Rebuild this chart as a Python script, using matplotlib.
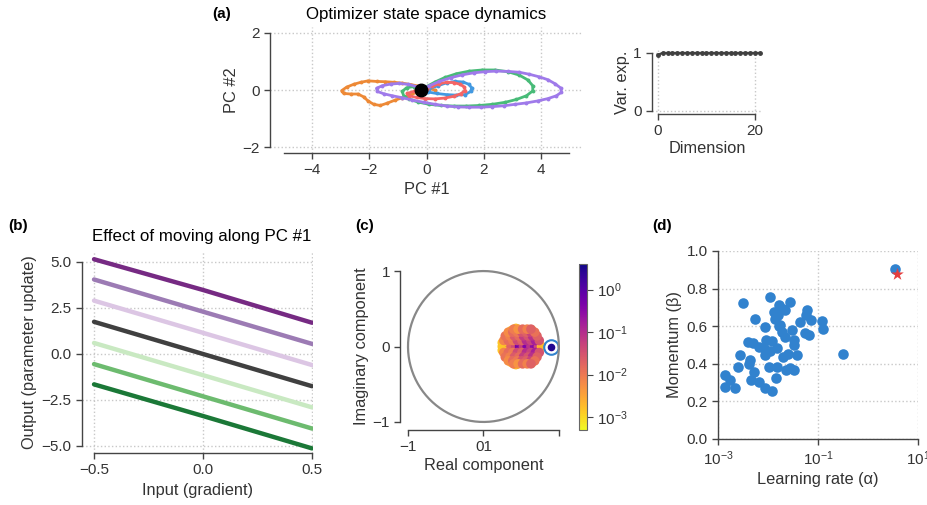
import numpy as np
import matplotlib
matplotlib.use("Agg")
from matplotlib import pyplot as plt
from matplotlib.colors import LogNorm

plt.rcParams['font.family'] = ['Liberation Sans', 'DejaVu Sans']
plt.rcParams['axes.unicode_minus'] = True

TXT = '#333333'
SPN = '#444444'
GRID = '#c8c8c8'
TICK_FS = 11
LAB_FS = 11.8

# ---- (a) trajectories in PC space ----
blue_x = [-0.2, 0.05, 0.35, 0.7, 1.05, 1.35, 1.55, 1.58, 1.48, 1.28, 1.0, 0.7, 0.4, 0.1, -0.1]
blue_y = [0.0, -0.07, -0.12, -0.16, -0.18, -0.16, -0.05, 0.08, 0.2, 0.28, 0.3, 0.25, 0.15, 0.05, 0.02]
orange_x = [0.3, 0.05, -0.25, -0.55, -0.85, -1.15, -1.45, -1.75, -2.05, -2.3, -2.55, -2.8, -2.97,
            -2.9, -2.65, -2.4, -2.2, -2.05, -1.85, -1.62, -1.38, -1.12, -0.85, -0.58, -0.35, -0.2]
orange_y = [0.0, 0.06, 0.13, 0.19, 0.24, 0.27, 0.29, 0.3, 0.32, 0.27, 0.2, 0.1, -0.02,
            -0.12, -0.14, -0.14, -0.24, -0.38, -0.5, -0.54, -0.46, -0.36, -0.27, -0.18, -0.08, 0.0]
green_x = [-0.2, -0.45, -0.7, -0.85, -0.8, -0.6, -0.3, 0.1, 0.5, 0.95, 1.4, 1.85, 2.3, 2.75, 3.15,
           3.5, 3.72, 3.72, 3.55, 3.25, 2.85, 2.4, 1.95, 1.5, 1.05, 0.65, 0.3, 0.0, -0.2]
green_y = [0.05, 0.12, 0.08, -0.05, -0.2, -0.32, -0.42, -0.5, -0.54, -0.56, -0.56, -0.54, -0.5, -0.43,
           -0.33, -0.2, -0.03, 0.15, 0.35, 0.52, 0.64, 0.7, 0.7, 0.66, 0.57, 0.44, 0.28, 0.12, 0.03]
red_x = [-0.2, -0.45, -0.68, -0.6, -0.35, -0.05, 0.3, 0.65, 0.95, 1.2, 1.35, 1.33, 1.18, 0.95, 0.7, 0.45, 0.2, 0.0]
red_y = [0.0, -0.05, -0.12, -0.2, -0.26, -0.3, -0.31, -0.28, -0.22, -0.13, -0.02, 0.1, 0.2, 0.26, 0.27, 0.22, 0.13, 0.05]
purple_x = [-0.2, 0.1, 0.45, 0.85, 1.25, 1.65, 2.05, 2.45, 2.85, 3.25, 3.6, 3.95, 4.25, 4.5, 4.7, 4.72,
            4.55, 4.25, 3.9, 3.5, 3.1, 2.7, 2.3, 1.9, 1.5, 1.1, 0.7, 0.3, -0.1, -0.5, -0.85, -1.2,
            -1.5, -1.72, -1.75, -1.55, -1.25, -0.95, -0.65, -0.35, -0.2]
purple_y = [0.0, 0.15, 0.3, 0.43, 0.53, 0.6, 0.64, 0.66, 0.65, 0.62, 0.55, 0.46, 0.36, 0.22, 0.07, -0.08,
            -0.2, -0.3, -0.38, -0.45, -0.5, -0.55, -0.58, -0.6, -0.6, -0.59, -0.56, -0.5, -0.43, -0.35,
            -0.27, -0.2, -0.13, -0.05, 0.06, 0.15, 0.21, 0.23, 0.2, 0.12, 0.05]
fixed_pt = (-0.2, 0.0)

# ---- (a) inset: variance explained ----
dims = list(range(22))
var_exp = [0.97] + [1.0] * 21

# ---- (b) output vs input along PC #1 ----
inp = [-0.5, 0.0, 0.5]
outs = [[5.15, 3.48, 1.70],
        [4.05, 2.30, 0.55],
        [2.90, 1.15, -0.60],
        [1.75, 0.00, -1.75],
        [0.60, -1.15, -2.90],
        [-0.55, -2.30, -4.05],
        [-1.65, -3.37, -5.13]]
out_colors = ['#762a83', '#9c7bb4', '#dcc6e4', '#404040', '#c9e9c2', '#6dbb6f', '#1b7837']

# ---- (c) eigenvalues ----
# real eigenvalues
real_re = [0.25, 0.31, 0.37, 0.43, 0.48, 0.53, 0.58, 0.63, 0.68, 0.73, 0.77]
real_mag = [0.0015, 0.01, 0.02, 0.04, 0.5, 0.06, 0.4, 0.08, 0.3, 0.04, 0.002]
# complex pairs (upper half-plane; conjugates mirrored)
cplx_re = [0.31, 0.43, 0.64, 0.25, 0.37, 0.55,
           0.27, 0.33, 0.39, 0.45, 0.51, 0.57, 0.63, 0.69, 0.74,
           0.29, 0.35, 0.41, 0.47, 0.53, 0.59, 0.65, 0.71,
           0.33, 0.39, 0.45, 0.51, 0.57, 0.63, 0.68,
           0.40, 0.46, 0.52, 0.58, 0.63]
cplx_im = [0.12, 0.24, 0.22, 0.05, 0.21, 0.11,
           0.08, 0.08, 0.08, 0.08, 0.08, 0.08, 0.08, 0.08, 0.08,
           0.14, 0.14, 0.14, 0.14, 0.14, 0.14, 0.14, 0.14,
           0.19, 0.19, 0.19, 0.19, 0.19, 0.19, 0.19,
           0.23, 0.23, 0.23, 0.23, 0.23]
cplx_mag = [0.0012, 0.0015, 0.002, 0.0015, 0.0018, 0.003,
            0.007, 0.015, 0.01, 0.04, 0.02, 0.1, 0.05, 0.15, 0.03,
            0.012, 0.008, 0.025, 0.015, 0.06, 0.03, 0.09, 0.02,
            0.006, 0.015, 0.01, 0.03, 0.02, 0.05, 0.012,
            0.009, 0.005, 0.015, 0.008, 0.02]
top_eig = (0.9, 0.0, 3.0)

# ---- (d) hyperparameters ----
lr = [0.00311, 0.0108, 0.028, 0.0163, 0.0222, 0.013, 0.0603, 0.0575, 0.0724, 0.120, 0.126, 0.043,
      0.00558, 0.00885, 0.0177, 0.0302, 0.0222, 0.0558, 0.065, 0.0337, 0.0326, 0.00392, 0.00501,
      0.0065, 0.00927, 0.00845, 0.00885, 0.0151, 0.02, 0.038, 0.00271, 0.00444, 0.0041, 0.00247,
      0.0103, 0.0151, 0.0229, 0.028, 0.0326, 0.0147, 0.00516, 0.00465, 0.0065, 0.0014, 0.00177,
      0.0014, 0.00222, 0.00885, 0.012, 0.321, 3.47,
      0.014, 0.017, 0.019, 0.012, 0.011, 0.025, 0.016, 0.02]
mom = [0.722, 0.754, 0.73, 0.713, 0.686, 0.677, 0.686, 0.66, 0.633, 0.629, 0.583, 0.62,
       0.636, 0.598, 0.606, 0.58, 0.544, 0.566, 0.553, 0.527, 0.5, 0.518, 0.509,
       0.491, 0.527, 0.482, 0.447, 0.482, 0.438, 0.447, 0.447, 0.42, 0.399, 0.385,
       0.385, 0.385, 0.367, 0.376, 0.367, 0.323, 0.358, 0.314, 0.305, 0.34, 0.314,
       0.278, 0.27, 0.27, 0.257, 0.454, 0.904,
       0.64, 0.60, 0.57, 0.52, 0.47, 0.45, 0.66, 0.69]
best = (3.8, 0.88)


def style(ax, xb, yb):
    for s in ['top', 'right']:
        ax.spines[s].set_visible(False)
    for s in ['left', 'bottom']:
        ax.spines[s].set_color(SPN)
        ax.spines[s].set_linewidth(1.0)
    ax.spines['bottom'].set_bounds(*xb)
    ax.spines['left'].set_bounds(*yb)
    ax.tick_params(colors=SPN, labelcolor=TXT, labelsize=TICK_FS, length=4, width=1.0)
    ax.grid(True, ls=':', color=GRID, lw=1.0)
    ax.set_axisbelow(True)


fig = plt.figure(figsize=(9.27, 5.05), dpi=100)

# (a) main
ax = fig.add_axes([0.2913, 0.697, 0.3376, 0.2495])
for xs, ys, c in [(orange_x, orange_y, '#ed8936'), (green_x, green_y, '#48bb78'),
                  (blue_x, blue_y, '#4299e1'), (red_x, red_y, '#f56565'),
                  (purple_x, purple_y, '#9f7aea')]:
    ax.plot(xs, ys, '-o', color=c, lw=2, ms=2.8, mew=0)
ax.plot(*fixed_pt, 'o', color='black', ms=9)
ax.set_xlim(-5.48, 5.48)
ax.set_ylim(-2.2, 2.2)
ax.set_xticks([-4, -2, 0, 2, 4])
ax.set_yticks([-2, 0, 2])
style(ax, (-5, 5), (-2, 2))
ax.set_xlabel('PC #1', fontsize=LAB_FS, color=TXT, labelpad=3)
ax.set_ylabel('PC #2', fontsize=LAB_FS, color=TXT, labelpad=2)
ax.set_title('Optimizer state space dynamics', fontsize=12.2, pad=6)
fig.text(0.2287, 0.965, '(a)', fontsize=11, fontweight='bold')

# (a) inset
ax = fig.add_axes([0.7033, 0.7743, 0.1187, 0.1267])
ax.plot(dims, var_exp, '-o', color='#404040', lw=1.5, ms=2.5)
ax.set_xlim(-1.24, 21.5)
ax.set_ylim(-0.052, 1.05)
ax.set_xticks([0, 20])
ax.set_yticks([0, 1])
style(ax, (0, 20), (0, 1))
ax.set_xlabel('Dimension', fontsize=LAB_FS, color=TXT, labelpad=2)
ax.set_ylabel('Var. exp.', fontsize=LAB_FS, color=TXT, labelpad=2)

# (b)
ax = fig.add_axes([0.0885, 0.103, 0.2492, 0.3986])
for ys, c in zip(outs, out_colors):
    ax.plot(inp, ys, color=c, lw=3.2, solid_capstyle='round')
ax.set_xlim(-0.555, 0.505)
ax.set_ylim(-5.38, 5.56)
ax.set_xticks([-0.5, 0, 0.5])
ax.set_yticks([-5, -2.5, 0, 2.5, 5])
style(ax, (-0.5, 0.5), (-5, 5))
ax.set_xlabel('Input (gradient)', fontsize=LAB_FS, color=TXT, labelpad=4)
ax.set_ylabel('Output (parameter update)', fontsize=LAB_FS, color=TXT, labelpad=3)
ax.set_title('Effect of moving along PC #1', fontsize=12.2, pad=8, x=0.52)
fig.text(0.009, 0.545, '(b)', fontsize=11, fontweight='bold')

# (c)
ax = fig.add_axes([0.432, 0.1495, 0.179, 0.3287])
norm = LogNorm(vmin=5e-4, vmax=4)
t = np.linspace(0, 2 * np.pi, 300)
ax.plot(np.cos(t), np.sin(t), color='#888888', lw=1.6)
ax.scatter(real_re, [0.0] * len(real_re), c=real_mag, cmap='plasma_r', norm=norm, s=48, lw=0)
sc = ax.scatter(cplx_re + cplx_re, cplx_im + [-v for v in cplx_im], c=cplx_mag + cplx_mag,
                cmap='plasma_r', norm=norm, s=48, lw=0)
ax.scatter([top_eig[0]], [top_eig[1]], s=110, facecolor='white', edgecolor='#3182ce', lw=1.5)
ax.scatter([top_eig[0]], [top_eig[1]], c=[top_eig[2]], cmap='plasma_r', norm=norm, s=30, lw=0)
ax.set_xlim(-1.1, 1.1)
ax.set_ylim(-1.1, 1.1)
ax.set_xticks([-1, 0, 1])
ax.set_xticklabels(['\u22121', '01', ''])
ax.set_yticks([-1, 0, 1])
style(ax, (-1, 1), (-1, 1))
ax.grid(False)
ax.set_xlabel('Real component', fontsize=LAB_FS, color=TXT, labelpad=3)
ax.set_ylabel('Imaginary component', fontsize=LAB_FS, color=TXT, labelpad=3)
fig.text(0.383, 0.545, '(c)', fontsize=11, fontweight='bold')

cax = fig.add_axes([0.6246, 0.1485, 0.0086, 0.3287])
cb = fig.colorbar(sc, cax=cax)
cb.set_ticks([1e-3, 1e-2, 1e-1, 1e0])
cb.ax.minorticks_off()
cb.outline.set_edgecolor('#666666')
cb.ax.tick_params(colors=SPN, labelcolor=TXT, labelsize=TICK_FS, length=4)

# (d)
ax = fig.add_axes([0.7745, 0.1307, 0.2157, 0.3723])
ax.scatter(lr, mom, s=58, color='#3182ce', lw=0)
ax.scatter([best[0]], [best[1]], marker='*', s=90, color='#e53e3e', lw=0)
ax.set_xscale('log')
ax.set_xlim(1e-3, 10)
ax.set_ylim(0, 1)
ax.set_xticks([1e-3, 1e-1, 1e1])
ax.minorticks_off()
ax.set_yticks([0, 0.2, 0.4, 0.6, 0.8, 1.0])
style(ax, (1e-3, 10), (0, 1))
ax.set_xlabel('Learning rate (\u03b1)', fontsize=LAB_FS, color=TXT, labelpad=3)
ax.set_ylabel('Momentum (\u03b2)', fontsize=LAB_FS, color=TXT, labelpad=3)
fig.text(0.704, 0.545, '(d)', fontsize=11, fontweight='bold')

fig.savefig('out.png', dpi=100)
